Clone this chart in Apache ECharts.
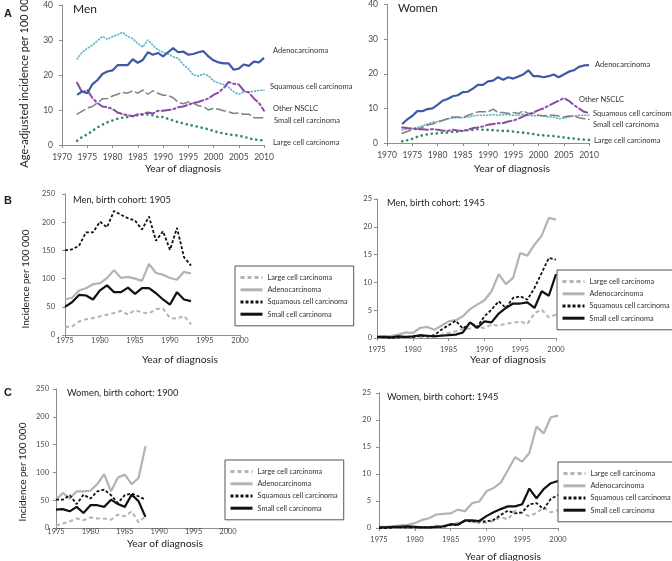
<!DOCTYPE html>
<html><head><meta charset="utf-8">
<script src="https://cdn.jsdelivr.net/npm/echarts@6/dist/echarts.min.js"></script>
<style>html,body{margin:0;padding:0;background:#fff}#c{width:672px;height:561px}</style>
</head><body><div id="c"></div>
<script>
// ---------- Panel A: age-adjusted incidence 1973-2010 ----------
const yearsA = [1973,1974,1975,1976,1977,1978,1979,1980,1981,1982,1983,1984,1985,1986,1987,1988,1989,1990,1991,1992,1993,1994,1995,1996,1997,1998,1999,2000,2001,2002,2003,2004,2005,2006,2007,2008,2009,2010];
const menAdeno = [14.3,15.3,14.8,17.3,18.5,20.3,21,21.3,22.8,22.8,22.8,24.5,23.5,24.3,26.5,25.8,26.3,25.3,26.5,27.7,26.5,26.7,25.8,26,26.5,26.8,25.3,24.2,23.6,23.3,23.3,21.5,21.8,23,22.6,23.8,23.6,24.9];
const menSquam = [24.6,26.5,27.6,28.5,29.8,31,30.2,31,31.5,32.2,31,30.4,29,28,30,28.5,27.2,26.5,26,25.2,24.8,23,21.8,20,19.7,20.3,19.8,18.3,17.7,17.3,16.5,15.2,14.5,15.2,15.2,15.3,15.6,15.7];
const menOther = [17.8,15,15.7,13.5,12,11,10.8,10.3,9.3,8.8,8.5,8.2,8.8,8.8,9.3,9,9.8,9.8,10,10.2,10.8,11,11.5,12,12.3,12.8,13.3,14.3,15,16.2,18,17.5,17.3,15.5,15,13.3,12,9.8];
const menSmall = [8.8,9.7,10.5,11,12,13.2,13.3,14,14.5,15,14.8,15.5,14.8,15.7,14.5,15.5,14.8,14.2,14.2,13.5,12.2,11.8,12.3,12,11.2,11,10,10.5,10.2,9.8,9.5,9,9.2,8.8,8.8,7.8,7.8,7.8];
const menLarge = [1.2,2.3,3,4,5,5.8,6.5,7,7.5,7.8,8,8.3,8.5,8.7,8.7,8.5,8,8,7.5,7,6.5,6.2,5.8,5.5,5.2,4.8,4.5,4,3.6,3.3,3,2.8,2.7,2.3,2,1.5,1.5,1.2];
const womenAdeno = [5.5,6.8,7.8,9.2,9.2,9.8,10,11,12.2,12.7,13.5,13.8,14.7,14.8,15.7,16.8,16.8,17.8,18,19,18.3,19,18.6,19.2,19.8,21,19.3,19.3,19,19.3,19.8,19,19.8,20.6,21,22,22.4,22.5];
const womenOther = [4.5,4.3,4.2,4,4,3.8,4,3.8,3.6,3.5,3.8,3.6,3.5,3.8,4.3,4.5,4.8,5.3,5.5,5.7,5.8,6.2,6.5,7,7.7,8.3,8.8,9.5,10,10.8,11.5,12.2,13,12.2,11,10,9,8.7];
const womenSquam = [3.8,4,4.2,4.5,5,5.5,6,6.2,6.5,7,7.2,7.3,7.3,7.5,7.8,8,8,8,8.2,8,8.2,8.2,8,8,8.3,8,7.8,8,7.8,7.5,7.5,7,7.2,7.5,7.8,8,8,8];
const womenSmall = [2.8,3.3,3.8,4,4.5,5.2,5.5,6,6.5,7,7.5,7.5,7.3,8,8.5,9,9,9,9.8,8.8,8.8,8.5,8.8,8.5,9.3,8.5,8.5,8,7.8,8,8,7.8,7.5,7.8,7.8,7.3,7,6.8];
const womenLarge = [0.5,0.8,1.2,1.8,2.2,2.5,2.7,2.8,3,3,3.2,3.3,3.5,3.7,3.8,4,3.8,3.8,3.7,3.6,3.5,3.5,3.3,3.1,3,2.8,2.6,2.3,2.2,2.1,2,1.8,1.6,1.4,1.3,1.1,1,0.9];

// ---------- Panel B/C: birth cohorts ----------
const years05 = [1975,1976,1977,1978,1979,1980,1981,1982,1983,1984,1985,1986,1987,1988,1989,1990,1991,1992,1993];
const m05Large = [14,15,24,28,30,33,36,39,43,36,44,40,38,46,47,30,29,34,19];
const m05Adeno = [63,66,79,83,90,92,101,115,101,103,100,96,126,110,107,101,98,112,109];
const m05Squam = [150,152,158,182,182,201,191,220,213,207,203,187,210,167,184,151,190,138,123];
const m05Small = [50,58,71,70,63,79,88,76,76,84,73,83,83,74,63,54,76,63,60];

const years45 = [1975,1976,1977,1978,1979,1980,1981,1982,1983,1984,1985,1986,1987,1988,1989,1990,1991,1992,1993,1994,1995,1996,1997,1998,1999,2000];
const m45Large = [0,0.1,0,0.1,0.1,0.2,0.2,0.2,0.3,0.6,0.9,1.2,1.6,1.7,2.0,1.8,2.4,2.2,2.6,2.7,3.0,2.5,4.5,5.1,3.7,4.2];
const m45Adeno = [0.2,0.3,0.4,0.6,1.0,0.9,1.8,2.0,1.5,2.2,3.0,3.2,3.9,5.2,6.0,6.8,8.4,11.5,9.7,10.8,15.3,14.8,16.8,18.4,21.6,21.3];
const m45Squam = [0.1,0.1,0,0.1,0.2,0.2,0.4,0.3,0.5,1.5,2.3,3.1,1.7,2.7,2.0,3.9,5.1,6.6,5.4,7.2,7.5,6.9,9.0,11.7,14.4,14.1];
const m45Small = [0.2,0.2,0.1,0.3,0.2,0.3,0.5,0.4,0.3,0.4,0.5,0.6,1.0,2.8,1.8,3.0,2.8,4.4,5.4,6.2,6.2,6.4,5.4,8.4,7.6,11.5];

const years00 = [1975,1976,1977,1978,1979,1980,1981,1982,1983,1984,1985,1986,1987,1988];
const w00Large = [4,8,12,17,14,19,17,17,15,24,21,30,10,21];
const w00Adeno = [51,63,53,66,66,67,79,97,66,91,96,79,90,147];
const w00Squam = [51,51,59,43,60,53,66,69,59,45,59,62,57,51];
const w00Small = [33,34,30,38,27,41,41,38,51,43,38,60,48,20];

const w45Large = [0,0,0.1,0.1,0.2,0.2,0.1,0.1,0.4,0.4,0.5,1.0,1.3,1.2,0.9,1.0,1.3,2.0,1.6,3.2,2.7,2.2,2.8,3.8,2.9,3.3];
const w45Adeno = [0.2,0.2,0.3,0.5,0.6,0.9,1.5,1.8,2.5,2.6,2.7,3.4,3.1,4.6,4.9,6.8,7.4,8.4,10.7,13.1,12.3,13.9,18.8,17.5,20.5,20.8];
const w45Squam = [0,0,0.1,0.1,0.1,0.1,0.1,0.1,0.2,0.2,0.6,0.6,1.3,1.2,1.2,1.2,1.5,2.4,3.2,2.7,2.9,4.4,4.6,3.5,5.4,6.1];
const w45Small = [0.1,0.1,0.2,0.2,0.3,0.2,0.1,0.1,0.2,0.3,0.7,0.6,1.4,1.4,1.3,2.2,2.9,3.5,4.0,4.0,4.4,7.3,5.5,7.2,8.3,8.7];

const cohortNames = ['Large cell carcinoma','Adenocarcinoma','Squamous cell carcinoma','Small cell carcinoma'];

// ---------- helpers ----------
const FONT = 'Lato';
const THIN = 'path://M0,0L10,0L10,0.1L0,0.1Z';
const pair = (xs, ys) => ys.map((v, i) => [xs[i], v]);
const axisLine = { lineStyle: { color: '#8c8c8c', width: 1 } };
function xAx(grid, min, max, size, margin) {
  return { type: 'value', gridIndex: grid, min: min, max: max, interval: 5,
    axisLine: Object.assign({ onZero: false }, axisLine), axisTick: { show: true, length: 3, lineStyle: { color: '#8c8c8c' } },
    axisLabel: { color: '#4a4a4a', fontSize: size, fontFamily: FONT, margin: margin, showMinLabel: true, showMaxLabel: true,
      formatter: v => String(v) },
    splitLine: { show: false } };
}
function yAx(grid, max, interval, size, margin) {
  return { type: 'value', gridIndex: grid, min: 0, max: max, interval: interval,
    axisLine: Object.assign({ show: true }, axisLine), axisTick: { show: true, length: 3, lineStyle: { color: '#8c8c8c' } },
    axisLabel: { color: '#4a4a4a', fontSize: size, fontFamily: FONT, margin: margin, formatter: v => String(v) },
    splitLine: { show: false } };
}
function aLine(name, label, idx, data, color, width, type, off) {
  return { name: name, type: 'line', xAxisIndex: idx, yAxisIndex: idx, data: data,
    symbol: 'none', animation: false, silent: true,
    lineStyle: { color: color, width: width, type: type, cap: type === 'solid' ? 'butt' : 'round' },
    endLabel: { show: true, formatter: label, fontSize: 7.5, fontFamily: FONT, color: '#333', distance: 0, offset: off } };
}
const cohortStyle = [
  { color: '#b3b3b3', width: 2, type: [4, 3] },
  { color: '#b3b3b3', width: 2.2, type: 'solid' },
  { color: '#111', width: 1.8, type: [3, 2] },
  { color: '#111', width: 2.2, type: 'solid' }
];
function cohort(idx, xs, arrs) {
  return arrs.map((a, k) => ({ name: cohortNames[k], type: 'line', xAxisIndex: idx, yAxisIndex: idx,
    data: pair(xs, a), symbol: THIN, symbolKeepAspect: true, showSymbol: false, animation: false, silent: true, z: k === 1 ? 2 : 3,
    lineStyle: { color: cohortStyle[k].color, width: cohortStyle[k].width, type: cohortStyle[k].type },
    itemStyle: { color: cohortStyle[k].color } }));
}
function legend(left, top) {
  return { data: cohortNames, orient: 'vertical', left: left, top: top, selectedMode: false,
    borderColor: '#555', borderWidth: 1, borderRadius: 0, padding: [8, 6, 8, 4],
    itemWidth: 22, itemHeight: 9, itemGap: 5, symbolKeepAspect: true,
    itemStyle: { opacity: 0, borderWidth: 0 },
    lineStyle: { width: 3 },
    textStyle: { fontSize: 7.3, fontFamily: FONT, color: '#333' } };
}
function txt(x, y, s, size, opt) {
  return Object.assign({ type: 'text', x: x, y: y, silent: true,
    style: Object.assign({ text: s, fontSize: size, fontFamily: FONT, fill: '#222', align: 'left', verticalAlign: 'middle' }, (opt && opt.style) || {}) },
    opt && opt.rotation ? { rotation: opt.rotation } : {});
}

const chart = echarts.init(document.getElementById('c'), null, { renderer: 'canvas' });
const option = {
  backgroundColor: '#fff',
  animation: false,
  grid: [
    { left: 62, top: 5, width: 202, height: 140 },
    { left: 387, top: 2, width: 202, height: 141 },
    { left: 65, top: 194, width: 175, height: 141 },
    { left: 377, top: 199, width: 179, height: 139 },
    { left: 56, top: 389, width: 172, height: 139 },
    { left: 379, top: 393, width: 179, height: 135 }
  ],
  xAxis: [ xAx(0, 1970, 2010, 8.5, 8), xAx(1, 1970, 2010, 8.5, 8), xAx(2, 1975, 2000, 7.5, 2), xAx(3, 1975, 2000, 7.5, 8), xAx(4, 1975, 2000, 7.5, 0), xAx(5, 1975, 2000, 7.5, 8) ],
  yAxis: [ yAx(0, 40, 10, 8.5, 9), yAx(1, 40, 10, 8.5, 9), yAx(2, 250, 50, 7.5, 10), yAx(3, 25, 5, 7.5, 5), yAx(4, 250, 50, 7.5, 7), yAx(5, 25, 5, 7.5, 8) ],
  legend: [ legend(235, 266), legend(557, 270), legend(225, 460), legend(558, 462) ],
  series: [
    aLine('m-sq', 'Squamous cell carcinoma', 0, pair(yearsA, menSquam), '#56b4cb', 1.6, [1, 2.2], [6, -3]),
    aLine('m-sm', 'Small cell carcinoma', 0, pair(yearsA, menSmall), '#7f7f7f', 1.5, [9, 4], [10, 3]),
    aLine('m-lg', 'Large cell carcinoma', 0, pair(yearsA, menLarge), '#2f8a5a', 2.6, [0.1, 5], [9, 2]),
    aLine('m-ot', 'Other NSCLC', 0, pair(yearsA, menOther), '#8a4aa6', 2, [9, 3, 2, 3], [9, -2]),
    aLine('m-ad', 'Adenocarcinoma', 0, pair(yearsA, menAdeno), '#3e5aa6', 2.2, 'solid', [9, -7]),
    aLine('w-sq', 'Squamous cell carcinoma', 1, pair(yearsA, womenSquam), '#56b4cb', 1.6, [1, 2.2], [4, -2]),
    aLine('w-sm', 'Small cell carcinoma', 1, pair(yearsA, womenSmall), '#7f7f7f', 1.5, [9, 4], [4, 5]),
    aLine('w-lg', 'Large cell carcinoma', 1, pair(yearsA, womenLarge), '#2f8a5a', 2.6, [0.1, 5], [5, 1]),
    aLine('w-ot', 'Other NSCLC', 1, pair(yearsA, womenOther), '#8a4aa6', 2, [9, 3, 2, 3], [-10, -13]),
    aLine('w-ad', 'Adenocarcinoma', 1, pair(yearsA, womenAdeno), '#3e5aa6', 2.2, 'solid', [6, -1]),
    ...cohort(2, years05, [m05Large, m05Adeno, m05Squam, m05Small]),
    ...cohort(3, years45, [m45Large, m45Adeno, m45Squam, m45Small]),
    ...cohort(4, years00, [w00Large, w00Adeno, w00Squam, w00Small]),
    ...cohort(5, years45, [w45Large, w45Adeno, w45Squam, w45Small])
  ],
  graphic: [
    txt(4, 14, 'A', 11, { style: { fontWeight: 'bold', fontFamily: 'Liberation Sans' } }),
    txt(73, 9, 'Men', 12),
    txt(398, 8, 'Women', 11.5),
    txt(24, 80, 'Age-adjusted incidence per 100 000', 11, { rotation: Math.PI / 2, style: { align: 'center' } }),
    txt(183, 169, 'Year of diagnosis', 10.3, { style: { align: 'center' } }),
    txt(512, 169, 'Year of diagnosis', 10.3, { style: { align: 'center' } }),
    txt(4, 201, 'B', 11, { style: { fontWeight: 'bold', fontFamily: 'Liberation Sans' } }),
    txt(73, 200, 'Men, birth cohort: 1905', 9.3),
    txt(387, 203, 'Men, birth cohort: 1945', 9.3),
    txt(26, 279, 'Incidence per 100 000', 10, { rotation: Math.PI / 2, style: { align: 'center' } }),
    txt(180, 360, 'Year of diagnosis', 10.3, { style: { align: 'center' } }),
    txt(508, 360, 'Year of diagnosis', 10.3, { style: { align: 'center' } }),
    txt(4, 393, 'C', 11, { style: { fontWeight: 'bold', fontFamily: 'Liberation Sans' } }),
    txt(67, 393, 'Women, birth cohort: 1900', 9.3),
    txt(387, 397, 'Women, birth cohort: 1945', 9.3),
    txt(23, 472, 'Incidence per 100 000', 10, { rotation: Math.PI / 2, style: { align: 'center' } }),
    txt(165, 544, 'Year of diagnosis', 10.3, { style: { align: 'center' } }),
    txt(503, 557, 'Year of diagnosis', 10.3, { style: { align: 'center' } })
  ]
};
chart.setOption(option);
</script></body></html>
